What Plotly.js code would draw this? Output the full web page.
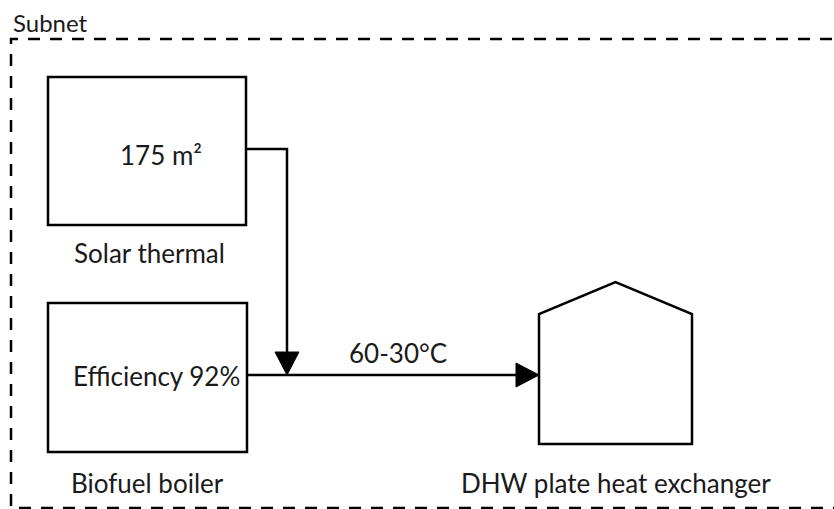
<!DOCTYPE html>
<html>
<head>
<meta charset="utf-8">
<script src="https://cdn.plot.ly/plotly-3.0.1.min.js"></script>
<style>html,body{margin:0;padding:0;background:#fff;}#chart{width:834px;height:509px;}</style>
</head>
<body>
<div id="chart"></div>
<script>
// Diagram content
const groupLabel = "Subnet";
const componentNames = ["Solar thermal", "Biofuel boiler", "DHW plate heat exchanger"];
const componentValues = ["175 m²", "Efficiency 92%"];
const flowLabels = ["60-30°C"];

// Geometry (layout only)
const W = 834, H = 509;
const solarBox = {x0: 48, y0: 77, x1: 246, y1: 225};
const boilerBox = {x0: 48, y0: 303, x1: 247, y1: 452};
const house = {x0: 539, x1: 692, yWall: 314, yPeak: 282, y1: 444};
const pipeY = 375, pipeX = 287, solarOutY = 149;

const ink = "#000000";
const txt = "#1a1a1a";
const fontFam = "Lato, 'Open Sans', sans-serif";
const fs = 26;

const shapes = [
  // dashed subnet border (extends beyond the canvas right/bottom)
  {type: "path", path: `M ${W + 20},39 L 11,39 L 11,508 L ${W + 20},508`,
   line: {color: ink, width: 2.5, dash: "12px,10px"}},
  {type: "rect", x0: solarBox.x0, y0: solarBox.y0, x1: solarBox.x1, y1: solarBox.y1, line: {color: ink, width: 2.5}},
  {type: "rect", x0: boilerBox.x0, y0: boilerBox.y0, x1: boilerBox.x1, y1: boilerBox.y1, line: {color: ink, width: 2.5}},
  {type: "path", path: `M ${solarBox.x1},${solarOutY} L ${pipeX},${solarOutY} L ${pipeX},${pipeY - 20}`, line: {color: ink, width: 2.5}},
  {type: "path", path: `M ${pipeX - 12},${pipeY - 23} L ${pipeX + 12},${pipeY - 23} L ${pipeX},${pipeY} Z`, fillcolor: ink, line: {color: ink, width: 1}},
  {type: "path", path: `M ${boilerBox.x1},${pipeY} L ${house.x0 - 20},${pipeY}`, line: {color: ink, width: 2.5}},
  {type: "path", path: `M ${house.x0 - 23},${pipeY - 12} L ${house.x0 - 23},${pipeY + 12} L ${house.x0},${pipeY} Z`, fillcolor: ink, line: {color: ink, width: 1}},
  {type: "path", path: `M ${house.x0},${house.y1} L ${house.x0},${house.yWall} L ${(house.x0 + house.x1) / 2},${house.yPeak} L ${house.x1},${house.yWall} L ${house.x1},${house.y1} Z`,
   line: {color: ink, width: 2.5}}
];

const ann = (text, x, y, size, xanchor) => ({text, x, y, xref: "x", yref: "y", showarrow: false,
  xanchor: xanchor || "center", yanchor: "middle", font: {family: fontFam, size: size || fs, color: txt}});

const annotations = [
  ann(groupLabel, 11, 22, 24, "left"),
  ann(componentValues[0], 161, 155),
  ann(componentNames[0], 149, 253),
  ann(componentValues[1], 156, 376),
  ann(componentNames[1], 147, 483),
  ann(flowLabels[0], 398, 353),
  ann(componentNames[2], 616, 483)
];

const layout = {
  width: W, height: H,
  margin: {l: 0, r: 0, t: 0, b: 0},
  paper_bgcolor: "#ffffff", plot_bgcolor: "#ffffff",
  xaxis: {range: [0, W], visible: false, fixedrange: true},
  yaxis: {range: [H, 0], visible: false, fixedrange: true},
  showlegend: false,
  shapes, annotations
};

Plotly.newPlot("chart", [], layout, {staticPlot: true, displayModeBar: false});
</script>
</body>
</html>
